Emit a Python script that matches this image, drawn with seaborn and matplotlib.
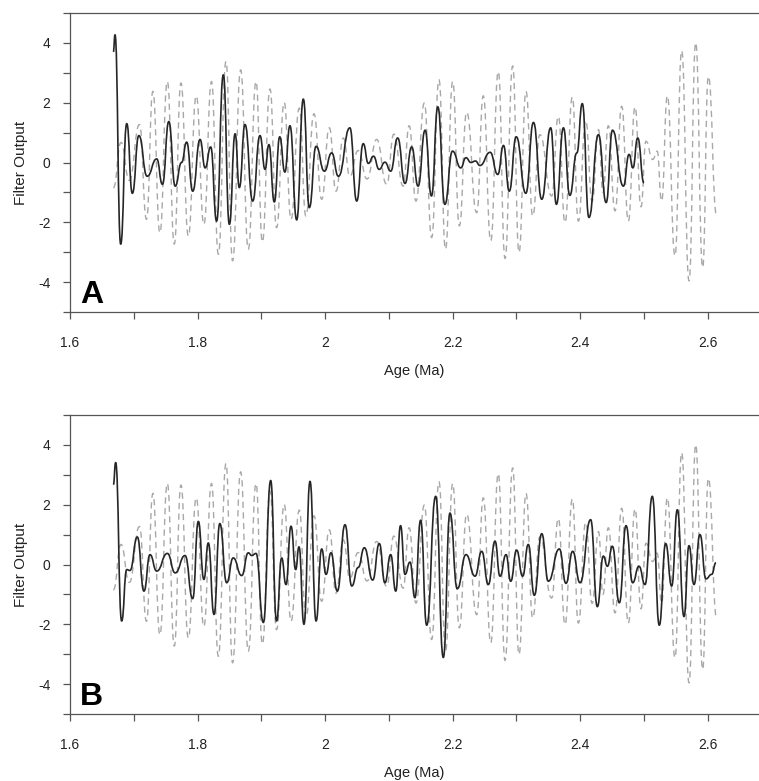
import numpy as np
import pandas as pd
import matplotlib
matplotlib.use("Agg")
import matplotlib.pyplot as plt
from matplotlib.path import Path
from matplotlib.patches import PathPatch
import seaborn as sns

# ---- data: dashed reference curve (same in both panels) ----
ref_age = [1.668, 1.680, 1.693, 1.709, 1.720, 1.730, 1.741, 1.7527, 1.7636, 1.774,
           1.7856, 1.798, 1.810, 1.822, 1.8327, 1.8447, 1.855, 1.8677, 1.8797, 1.8918,
           1.9017, 1.9137, 1.924, 1.936, 1.9467, 1.9597, 1.970, 1.9827, 1.9948, 2.0068,
           2.0173, 2.0287, 2.039, 2.052, 2.066, 2.081, 2.0967, 2.108, 2.1225, 2.132,
           2.1427, 2.1558, 2.1673, 2.1788, 2.189, 2.2003, 2.2107, 2.2222, 2.238, 2.2483,
           2.260, 2.2718, 2.2824, 2.2944, 2.3043, 2.3153, 2.3258, 2.337, 2.3556, 2.366,
           2.3765, 2.388, 2.3974, 2.409, 2.419, 2.429, 2.436, 2.4444, 2.455, 2.4654,
           2.4758, 2.4863, 2.4957, 2.5035, 2.514, 2.521, 2.528, 2.537, 2.549, 2.5595,
           2.571, 2.5815, 2.5924, 2.6013, 2.6144]
ref_val = [-0.85, 0.67, -0.6, 1.27, -1.9, 2.38, -2.35, 2.71, -2.73, 2.66,
           -2.46, 2.23, -2.07, 2.71, -3.07, 3.38, -3.29, 3.1, -2.9, 2.71,
           -2.66, 2.46, -2.18, 2.01, -1.9, 1.82, -1.79, 1.63, -1.23, 1.16,
           -0.96, 0.82, -0.46, 0.4, -0.55, 0.77, -0.73, 0.95, -0.79, 1.23,
           -1.29, 1.99, -2.51, 2.77, -2.9, 2.71, -2.12, 1.68, -1.68, 2.23,
           -2.62, 3.04, -3.21, 3.23, -3.01, 2.38, -1.79, 0.93, -1.12, 1.54,
           -2.01, 2.19, -1.96, 1.4, -1.3, 1.1, -1.0, 1.23, -1.62, 1.88,
           -1.96, 1.86, -1.48, 0.71, 0.1, 0.38, -1.29, 2.23, -3.12, 3.74,
           -3.96, 4.01, -3.51, 2.88, -1.79]

# ---- data: filter output, panel A ----
a_age = [1.668, 1.6706, 1.6795, 1.689, 1.6978, 1.708, 1.721, 1.736, 1.745, 1.755,
         1.765, 1.775, 1.783, 1.7925, 1.804, 1.812, 1.8207, 1.830, 1.8405, 1.850,
         1.859, 1.8656, 1.8745, 1.8866, 1.898, 1.906, 1.912, 1.9205, 1.929, 1.937,
         1.945, 1.9556, 1.966, 1.9754, 1.986, 1.999, 2.0105, 2.021, 2.039, 2.0497,
         2.060, 2.068, 2.076, 2.085, 2.094, 2.103, 2.114, 2.1255, 2.136, 2.146,
         2.157, 2.167, 2.177, 2.188, 2.200, 2.213, 2.221, 2.229, 2.236, 2.243,
         2.259, 2.271, 2.280, 2.289, 2.300, 2.315, 2.327, 2.340, 2.354, 2.363,
         2.374, 2.384, 2.395, 2.4036, 2.414, 2.429, 2.441, 2.451, 2.468, 2.477,
         2.483, 2.4905, 2.5004]
a_val = [3.7, 4.27, -2.73, 1.3, -1.03, 0.9, -0.46, 0.12, -0.73, 1.37,
         -0.79, 0.0, 0.68, -0.96, 0.77, -0.18, 0.52, -1.96, 2.93, -2.07,
         0.96, -0.84, 1.27, -1.29, 0.9, -0.23, 0.6, -1.32, 0.86, -0.32,
         1.23, -1.92, 2.12, -1.51, 0.54, -0.29, 0.32, -0.46, 1.16, -1.29,
         0.63, -0.03, 0.21, -0.23, 0.01, -0.29, 0.82, -0.7, 0.52, -0.79,
         1.08, -1.12, 1.86, -1.4, 0.38, -0.18, 0.16, 0.0, 0.05, -0.1,
         0.34, -0.4, 0.57, -0.96, 0.86, -1.03, 1.34, -1.23, 1.16, -1.4,
         1.16, -1.1, 0.32, 1.97, -1.84, 0.93, -1.34, 1.08, -0.79, 0.27,
         -0.18, 0.82, -0.68]

# ---- data: filter output, panel B ----
b_age = [1.668, 1.6716, 1.681, 1.689, 1.694, 1.7056, 1.716, 1.7255, 1.736, 1.7527,
         1.765, 1.7804, 1.7925, 1.8013, 1.810, 1.817, 1.8259, 1.835, 1.8458, 1.856,
         1.8693, 1.8797, 1.885, 1.8918, 1.9033, 1.9148, 1.924, 1.932, 1.9388, 1.9467,
         1.954, 1.9592, 1.967, 1.9765, 1.986, 1.9948, 2.0016, 2.0094, 2.0193, 2.0314,
         2.042, 2.052, 2.0617, 2.0748, 2.0852, 2.094, 2.103, 2.111, 2.1185, 2.1255,
         2.1333, 2.141, 2.150, 2.1595, 2.1736, 2.1856, 2.196, 2.2075, 2.2212, 2.2353,
         2.2458, 2.2562, 2.2667, 2.2745, 2.284, 2.2913, 2.3006, 2.310, 2.3189, 2.3283,
         2.340, 2.3503, 2.3676, 2.378, 2.3885, 2.400, 2.4167, 2.4272, 2.4366, 2.443,
         2.4507, 2.4617, 2.4722, 2.4826, 2.4925, 2.502, 2.5134, 2.5244, 2.5344, 2.5438,
         2.5527, 2.5631, 2.571, 2.5788, 2.5882, 2.5976, 2.6065, 2.6133]
b_val = [2.67, 3.41, -1.89, -0.17, -0.2, 0.92, -0.89, 0.33, -0.22, 0.37,
         -0.28, 0.3, -1.14, 1.44, -0.5, 0.72, -1.67, 1.37, -0.61, 0.22,
         -0.37, 0.39, 0.3, 0.37, -1.94, 2.81, -1.89, 0.22, -0.67, 1.28,
         -0.17, 0.59, -2.0, 2.78, -1.89, 0.52, -0.33, 0.39, -0.89, 1.33,
         -0.72, -0.1, 0.56, -0.52, 0.7, -0.61, 0.33, -0.89, 1.3, -0.33,
         0.08, -1.11, 1.48, -2.03, 2.28, -3.11, 1.72, -0.81, 0.33, -0.39,
         0.44, -0.67, 0.78, -0.39, 0.33, -0.56, 0.48, -0.39, 0.67, -1.03,
         1.03, -0.56, 0.52, -0.63, 0.44, -0.61, 1.5, -1.41, 0.28, -0.06,
         0.61, -1.28, 1.3, -0.61, -0.06, -0.67, 2.28, -2.03, 0.7, -0.72,
         1.83, -1.74, 0.63, -0.67, 1.0, -0.48, -0.33, 0.06]

panel_labels = ["A", "B"]
x_ticks = [1.6, 1.8, 2.0, 2.2, 2.4, 2.6]
x_ticklabels = ["1.6", "1.8", "2", "2.2", "2.4", "2.6"]
y_ticks = [-4, -2, 0, 2, 4]

sns.set_theme(style="white")
plt.rcParams["font.family"] = ["Liberation Sans", "DejaVu Sans"]


def smooth_line(ax, line, dashes=None):
    """Re-render a seaborn line as a smooth curve through its own vertices
    (horizontal tangents at every vertex, i.e. at the extrema)."""
    xy = line.get_xydata()
    verts = [tuple(xy[0])]
    codes = [Path.MOVETO]
    for (x0, y0), (x1, y1) in zip(xy[:-1], xy[1:]):
        dx = x1 - x0
        verts += [(x0 + dx * 0.5, y0), (x1 - dx * 0.5, y1), (x1, y1)]
        codes += [Path.CURVE4] * 3
    patch = PathPatch(Path(verts, codes), fill=False, edgecolor=line.get_color(),
                      linewidth=line.get_linewidth(), transform=ax.transData,
                      capstyle="butt", joinstyle="round", zorder=line.get_zorder())
    if dashes is not None:
        patch.set_linestyle((0, dashes))
    ax.add_patch(patch)
    line.remove()


W, H = 759, 781
fig = plt.figure(figsize=(W / 100, H / 100), dpi=100)

ref_df = pd.DataFrame({"age": ref_age, "val": ref_val})
panels = [pd.DataFrame({"age": a_age, "val": a_val}),
          pd.DataFrame({"age": b_age, "val": b_val})]
tops = [13, 415]
ax_h = 299
left_px = 70

for i, df in enumerate(panels):
    top = tops[i]
    ax = fig.add_axes([left_px / W, (H - top - ax_h) / H, (W - left_px) / W, ax_h / H])
    sns.lineplot(data=ref_df, x="age", y="val", ax=ax, sort=False, estimator=None,
                 color="#a8a8a8", linewidth=1.0)
    smooth_line(ax, ax.lines[-1], dashes=(4.5, 3.2))
    sns.lineplot(data=df, x="age", y="val", ax=ax, sort=False, estimator=None,
                 color="#262626", linewidth=1.2)
    smooth_line(ax, ax.lines[-1])
    ax.set_xlim(1.6, 1.6 + (W - left_px) / 637.5)
    ax.set_ylim(-5, 5)
    ax.set_xticks(x_ticks)
    ax.set_xticklabels(x_ticklabels)
    ax.set_xticks([1.7, 1.9, 2.1, 2.3, 2.5], minor=True)
    ax.set_yticks(y_ticks)
    ax.set_yticklabels([str(t) for t in y_ticks])
    ax.set_yticks([-5, -3, -1, 1, 3, 5], minor=True)
    ax.tick_params(axis="both", which="both", direction="out", length=5, width=0.9,
                   color="#555555", labelsize=10, labelcolor="#222222",
                   bottom=True, left=True)
    ax.tick_params(axis="x", pad=12)
    ax.tick_params(axis="y", pad=9)
    for s in ["left", "bottom", "top"]:
        ax.spines[s].set_visible(True)
        ax.spines[s].set_color("#555555")
        ax.spines[s].set_linewidth(0.9)
    ax.spines["right"].set_visible(False)
    ax.set_xlabel("Age (Ma)", fontsize=10.5, color="#222222", labelpad=10)
    ax.set_ylabel("Filter Output", fontsize=11, color="#222222", labelpad=7)
    ax.text(0.015, 0.008, panel_labels[i], transform=ax.transAxes, fontsize=23,
            fontweight="bold", ha="left", va="bottom", color="black")
    ax.grid(False)
    ax.set_facecolor("white")

fig.savefig("out.png", dpi=100, facecolor="white")
